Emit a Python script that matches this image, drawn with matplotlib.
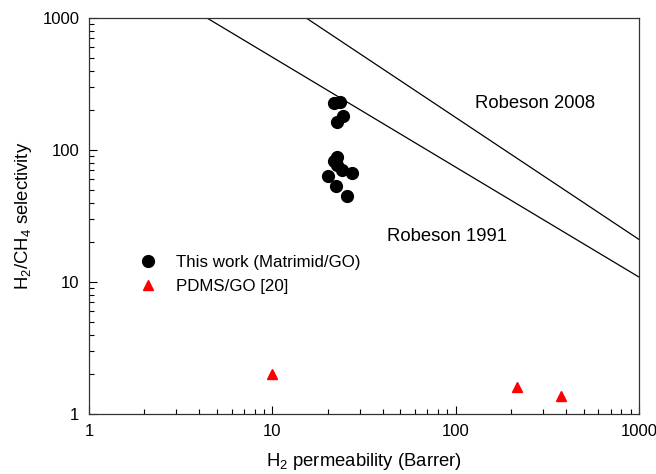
import numpy as np
import matplotlib
matplotlib.use("Agg")
import matplotlib.pyplot as plt

plt.rcParams['font.family'] = ['Liberation Sans', 'DejaVu Sans']
plt.rcParams['mathtext.fontset'] = 'custom'
plt.rcParams['mathtext.rm'] = 'Liberation Sans'
plt.rcParams['mathtext.it'] = 'Liberation Sans'

# This work (Matrimid/GO)
this_work_perm = [21.7, 23.4, 24.4, 22.5, 22.5, 21.7, 22.5, 23.9, 27.1, 20.2, 22.3, 25.5]
this_work_sel = [226, 232, 182, 164, 89, 83, 77, 70, 67, 63, 53, 45]

# PDMS/GO [20]
pdms_perm = [10, 215, 375]
pdms_sel = [2.0, 1.6, 1.38]

# Robeson upper bounds (end points)
robeson_1991_perm = [4.4, 1000]
robeson_1991_sel = [1000, 10.9]
robeson_2008_perm = [15.3, 1000]
robeson_2008_sel = [1000, 21.0]

fig = plt.figure(figsize=(6.56, 4.74), dpi=100)
ax = fig.add_axes([89 / 656, 1 - 414 / 474, 550 / 656, 396 / 474])

ax.plot(robeson_1991_perm, robeson_1991_sel, color='black', lw=0.9)
ax.plot(robeson_2008_perm, robeson_2008_sel, color='black', lw=0.9)

ax.plot(this_work_perm, this_work_sel, 'o', color='black', ms=8.5,
        label='This work (Matrimid/GO)')
ax.plot(pdms_perm, pdms_sel, '^', color='red', ms=7, mec='red',
        label='PDMS/GO [20]')

ax.text(128, 227, 'Robeson 2008', fontsize=13.3, va='center')
ax.text(42.3, 22.3, 'Robeson 1991', fontsize=13.3, va='center')

ax.set_xscale('log')
ax.set_yscale('log')
ax.set_xlim(1, 1000)
ax.set_ylim(1, 1000)
ax.set_xticks([1, 10, 100, 1000])
ax.set_xticklabels(['1', '10', '100', '1000'])
ax.set_yticks([1, 10, 100, 1000])
ax.set_yticklabels(['1', '10', '100', '1000'])

ax.tick_params(which='both', direction='in', top=False, right=False, labelsize=12)
ax.tick_params(which='major', length=6, width=0.8, pad=7)
ax.tick_params(which='minor', length=3.5, width=0.8)
for s in ax.spines.values():
    s.set_linewidth(0.9)
    s.set_color('#333333')

ax.set_xlabel('H$_2$ permeability (Barrer)', fontsize=13.3, labelpad=9)
ax.set_ylabel('H$_2$/CH$_4$ selectivity', fontsize=13.3, labelpad=6)

ax.legend(loc='upper left', bbox_to_anchor=(0.065, 0.44), frameon=False,
          fontsize=12.2, handlelength=1.0, handletextpad=1.1, labelspacing=0.55,
          numpoints=1)

fig.savefig('out.png', dpi=100)
